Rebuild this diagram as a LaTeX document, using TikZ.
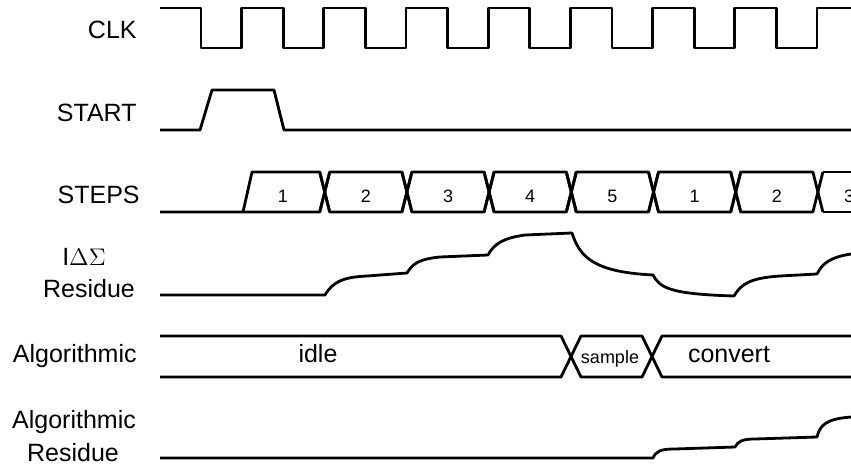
\documentclass[tikz,border=0pt]{standalone}
\usepackage{fontspec}
\setmainfont{Liberation Sans}
\usepackage{xcolor}
\usepackage{tikz}

\begin{document}
\begin{tikzpicture}[x=0.5pt, y=-0.5pt,
    wave/.style={line width=1.4pt, line join=round},
    siglabel/.style={font=\fontsize{12.5}{15}\selectfont, inner sep=0pt},
    stepnum/.style={font=\fontsize{9}{11}\selectfont, inner sep=0pt}]
    \useasboundingbox (0,0) rectangle (851,465);
    \clip (0,0) rectangle (851,465);

    \node[siglabel, anchor=base east] (clk) at (137,39) {CLK};
    \node[siglabel, anchor=base east] (start) at (137,121) {START};
    \node[siglabel, anchor=base east] (steps) at (140,203) {STEPS};
    \node[siglabel, anchor=base] (idsres) at (84,265) {I$\Delta\Sigma$};
    \node[siglabel, anchor=base] (idsres2) at (89,297) {Residue};
    \node[siglabel, anchor=base east] (algo) at (137,362) {Algorithmic};
    \node[siglabel, anchor=base] (algores) at (74,428) {Algorithmic};
    \node[siglabel, anchor=base] (algores2) at (73,461) {Residue};

    \draw[wave] (160,8) foreach \k in {0,...,7} {
        -- ({201+82.2*\k},8) -- ({201+82.2*\k},48)
        -- ({241.5+82.2*\k},48) -- ({241.5+82.2*\k},8)} -- (851,8);

    \draw[wave] (160,130) -- (200,130) -- (212,90) -- (274,90) -- (284,130) -- (851,130);

    \draw[wave] (160,212) -- (319.7,212) -- ++(10,-40);
    \draw[wave] (243,212) -- (252,172) -- (319.7,172) -- ++(10,40);
    \node[stepnum] (step0) at (283,196) {1};
    \foreach \lbl [count=\k] in {2,3,4,5,1,2} {
        \draw[wave] ({242.5+82.2*\k-5},212) -- ++(10,-40)
            -- ({242.5+82.2*(\k+1)-5},172) -- ++(10,40);
        \draw[wave] ({242.5+82.2*\k-5},172) -- ++(10,40)
            -- ({242.5+82.2*(\k+1)-5},212) -- ++(10,-40);
        \node[stepnum] (step\k) at ({242.5+82.2*\k+41.1},196) {\lbl};
    }
    \draw[wave] (822.9,172) -- (851,172);
    \draw[wave] (822.9,212) -- (851,212);
    \node[stepnum] (step7) at (849,196) {3};

    \draw[wave] (160,295) -- (325,295)
        .. controls (333,281) and (345,277) .. (367,276) -- (407,273)
        .. controls (413,263) and (420,259) .. (440,257) -- (488,255)
        .. controls (494,244) and (503,238) .. (525,235) -- (572,233)
        .. controls (580,258) and (595,272) .. (653,275)
        .. controls (660,288) and (670,294) .. (734,296)
        .. controls (741,284) and (750,278) .. (780,276) -- (817,274)
        .. controls (823,262) and (832,257) .. (851,254);

    \draw[wave] (160,336) -- (561,336) -- (581,377) -- (642,377) -- (662,336) -- (851,336);
    \draw[wave] (160,377) -- (561,377) -- (581,336) -- (642,336) -- (662,377) -- (851,377);
    \node[siglabel, anchor=base] (idle) at (318,362) {idle};
    \node[siglabel, anchor=base, font=\fontsize{9}{11}\selectfont] (sample) at (610,363) {sample};
    \node[siglabel, anchor=base] (convert) at (729,362) {convert};

    \draw[wave] (160,458) -- (653,458)
        .. controls (656,451) and (661,449) .. (675,449) -- (735,447)
        .. controls (738,441) and (743,439) .. (755,439) -- (817,437)
        .. controls (820,425) and (826,419) .. (851,417);
\end{tikzpicture}
\end{document}
